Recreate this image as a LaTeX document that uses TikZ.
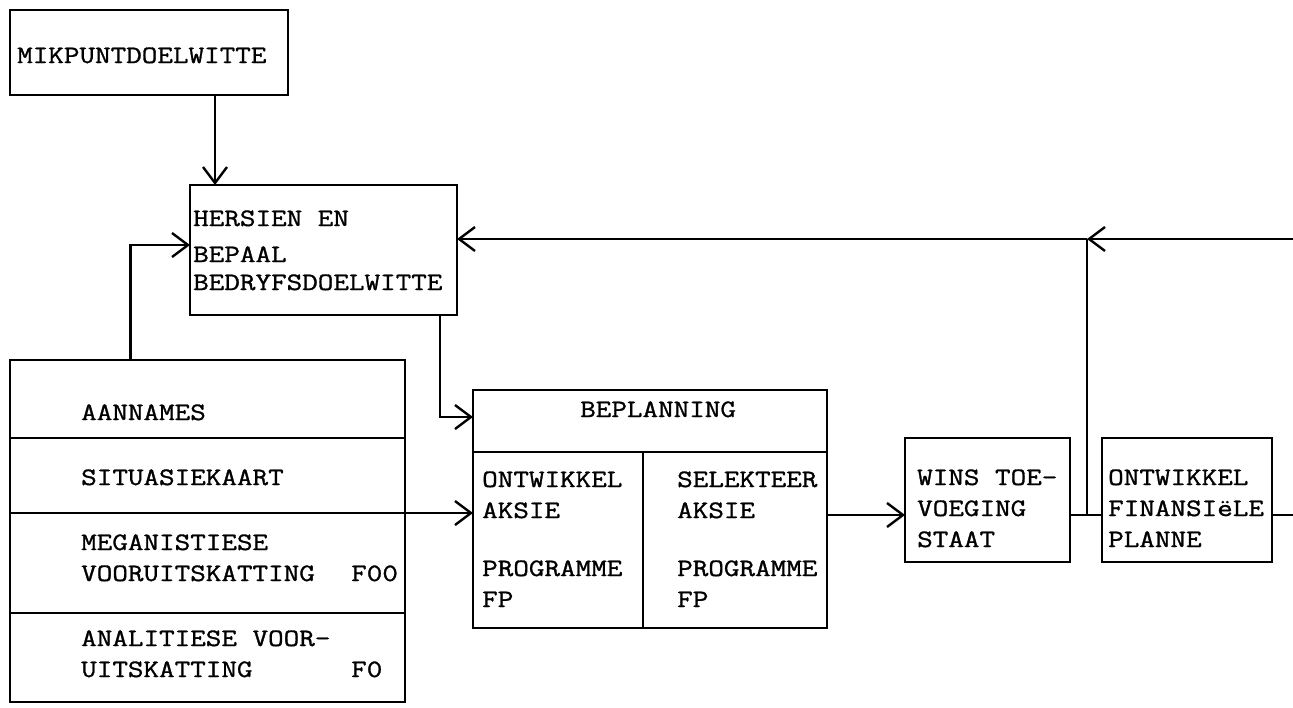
\documentclass[tikz,border=0pt]{standalone}
\usepackage{fontspec}
\setmonofont[FakeStretch=1.21, FakeBold=1.2]{Latin Modern Mono}
\usetikzlibrary{arrows.meta,positioning,calc}
\tikzset{
  blok/.style={draw, line width=2.6pt, inner sep=0pt, outer sep=0pt, anchor=north west},
  tekst/.style={font=\ttfamily\fontsize{25}{31}\selectfont, anchor=base west, align=left, inner sep=0pt},
  lyn/.style={line width=2.4pt},
  pyl/.style={lyn, -{Straight Barb[length=16pt, width=24pt]}}
}
\begin{document}
\begin{tikzpicture}[x=1pt, y=-1pt]
  \useasboundingbox (0,0) rectangle (1293,707);
  % boxes
  \node[blok, minimum width=278pt, minimum height=85pt] (mikpunt) at (10,10) {};
  \node[blok, minimum width=267pt, minimum height=130pt] (hersien) at (190,185) {};
  \node[blok, minimum width=395pt, minimum height=78pt] (aannames) at (10,360) {};
  \node[blok, minimum width=395pt, minimum height=75pt] (situasie) at (10,438) {};
  \node[blok, minimum width=395pt, minimum height=100pt] (meganies) at (10,513) {};
  \node[blok, minimum width=395pt, minimum height=89pt] (analities) at (10,613) {};
  \node[blok, minimum width=354pt, minimum height=62pt] (kop) at (473,390) {};
  \node[blok, minimum width=170pt, minimum height=176pt] (ontw) at (473,452) {};
  \node[blok, minimum width=184pt, minimum height=176pt] (selekteer) at (643,452) {};
  \node[blok, minimum width=165pt, minimum height=124pt] (wins) at (905,438) {};
  \node[blok, minimum width=170pt, minimum height=124pt] (finplan) at (1102,438) {};
  % texts (base = last line)
  \node[tekst] (mikt) at (17,63) {MIKPUNTDOELWITTE};
  \node[tekst] (hert) at (193,290) {HERSIEN EN\\[5pt]BEPAAL\\[-3pt]BEDRYFSDOELWITTE};
  \node[tekst] (aant) at (81,420) {AANNAMES};
  \node[tekst] (sitt) at (81,485) {SITUASIEKAART};
  \node[tekst] (megt) at (81,581) {MEGANISTIESE\\VOORUITSKATTING};
  \node[tekst] (foo) at (351,581) {F00};
  \node[tekst] (anat) at (81,677) {ANALITIESE VOOR-\\UITSKATTING};
  \node[tekst] (fo) at (351,677) {F0};
  \node[tekst] (kopt) at (580,417) {BEPLANNING};
  \node[tekst] (ontwt) at (482,607) {ONTWIKKEL\\AKSIE\\[27pt]PROGRAMME\\FP};
  \node[tekst] (selt) at (677,607) {SELEKTEER\\AKSIE\\[27pt]PROGRAMME\\FP};
  \node[tekst] (winst) at (917,547) {WINS TOE-\\VOEGING\\STAAT};
  \node[tekst] (fint) at (1108,547) {ONTWIKKEL\\FINANSIëLE\\PLANNE};
  % connector points
  \coordinate (winsin) at ([yshift=-15pt]wins.west);
  \coordinate (knoop) at (1087,515);
  \coordinate (knoopbo) at (1087,239);
  \coordinate (regsbo) at (1293,239);
  \coordinate (regsonder) at (winsin -| regsbo);
  % connectors
  \draw[pyl] ([xshift=66pt]mikpunt.south) -- ([xshift=66pt]mikpunt.south |- hersien.north);
  \draw[pyl] ([xshift=-77pt]aannames.north) |- ([yshift=5pt]hersien.west);
  \draw[pyl] ([xshift=-17pt]hersien.south east) |- ([yshift=4pt]kop.west);
  \draw[pyl] (situasie.south east) -- (situasie.south east -| ontw.west);
  \draw[pyl] (selekteer.east |- winsin) -- (winsin);
  \draw[lyn] (wins.east |- winsin) -- (finplan.west |- winsin);
  \draw[lyn] (finplan.east |- winsin) -- (regsonder);
  \draw[lyn] (knoop) -- (knoopbo);
  \draw[pyl] (regsbo) -- (knoopbo);
  \draw[pyl] (knoopbo) -- (hersien.east |- knoopbo);
\end{tikzpicture}
\end{document}
